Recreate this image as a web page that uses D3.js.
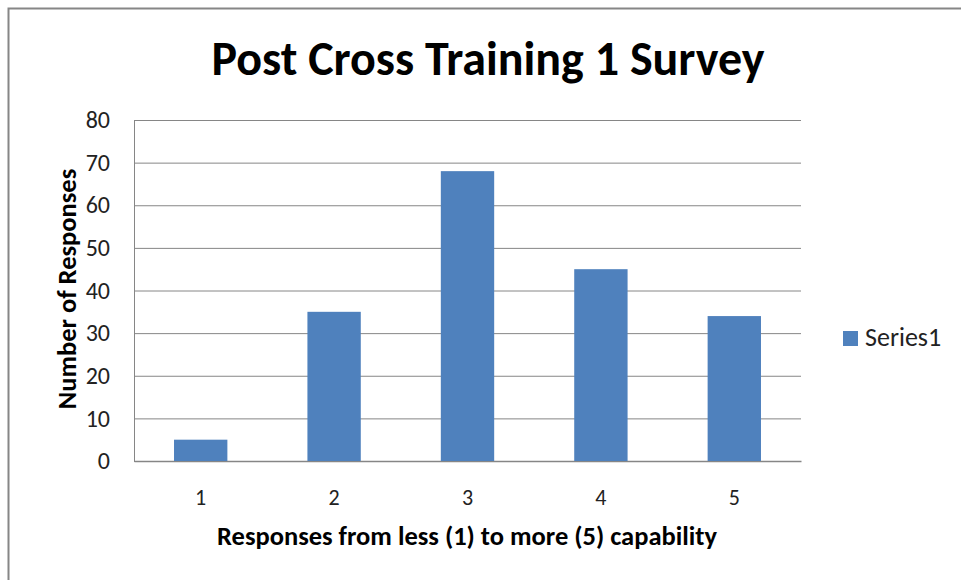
<!DOCTYPE html>
<html>
<head>
<meta charset="utf-8">
<script src="https://cdn.jsdelivr.net/npm/d3@7"></script>
<style>
  body { margin: 0; background: #fff; }
  text { font-family: Carlito, Calibri, Lato, 'Open Sans', sans-serif; }
</style>
</head>
<body>
<svg id="chart" width="961" height="580"></svg>
<script>
// Data
const categories = ['1', '2', '3', '4', '5'];
const responses  = [5, 35, 68, 45, 34];
const yTicks     = [0, 10, 20, 30, 40, 50, 60, 70, 80];
const seriesName = 'Series1';

const W = 961, H = 580;
const margin = { top: 120, right: 160, bottom: 119, left: 134 };
const width  = 801 - margin.left;
const height = 461 - margin.top;

const svg = d3.select('#chart');

// Outer frame (only top and left edges visible)
svg.append('path')
  .attr('d', `M8.5,${H} L8.5,8.5 L${W},8.5`)
  .attr('fill', 'none').attr('stroke', '#868686').attr('stroke-width', 2);

// Title
svg.append('text')
  .attr('x', 488).attr('y', 75)
  .attr('text-anchor', 'middle').attr('font-size', 48).attr('font-weight', 'bold')
  .attr('fill', '#000')
  .text('Post Cross Training 1 Survey');

const g = svg.append('g').attr('transform', `translate(${margin.left},${margin.top})`);

const x = d3.scaleBand().domain(categories).range([0, width])
  .paddingInner(0.6).paddingOuter(0.3);
const y = d3.scaleLinear().domain([0, 80]).range([height, 0]);

// Gridlines
g.append('g')
  .call(d3.axisLeft(y).tickValues(yTicks).tickSize(-width).tickFormat(''))
  .call(ax => ax.select('.domain').remove())
  .call(ax => ax.selectAll('line').attr('stroke', '#868686').attr('stroke-width', 1));

// Y axis
g.append('g')
  .call(d3.axisLeft(y).tickValues(yTicks).tickSize(0).tickPadding(24))
  .call(ax => ax.select('.domain').attr('stroke', '#868686'))
  .call(ax => ax.selectAll('text').attr('fill', '#222').attr('font-size', 24));

// X axis
g.append('g').attr('transform', `translate(0,${height})`)
  .call(d3.axisBottom(x).tickSize(0).tickPadding(28))
  .call(ax => ax.select('.domain').attr('stroke', '#868686').attr('stroke-width', 1.5))
  .call(ax => ax.selectAll('text').attr('fill', '#222').attr('font-size', 22));

// Bars
g.selectAll('rect.bar')
  .data(responses)
  .join('rect')
  .attr('class', 'bar')
  .attr('x', (d, i) => x(categories[i]))
  .attr('y', d => y(d))
  .attr('width', x.bandwidth())
  .attr('height', d => height - y(d))
  .attr('fill', '#4F81BD');

// Axis titles
svg.append('text')
  .attr('x', 467).attr('y', 545)
  .attr('text-anchor', 'middle').attr('font-size', 26.5).attr('font-weight', 'bold')
  .text('Responses from less (1) to more (5) capability');

svg.append('text')
  .attr('transform', 'translate(76,289) rotate(-90)')
  .attr('text-anchor', 'middle').attr('font-size', 26.5).attr('font-weight', 'bold')
  .text('Number of Responses');

// Legend
const legend = svg.append('g').attr('transform', 'translate(843,331)');
legend.append('rect').attr('width', 15).attr('height', 15).attr('fill', '#4F81BD');
legend.append('text').attr('x', 22).attr('y', 15).attr('font-size', 26).attr('fill', '#222').text(seriesName);
</script>
</body>
</html>
